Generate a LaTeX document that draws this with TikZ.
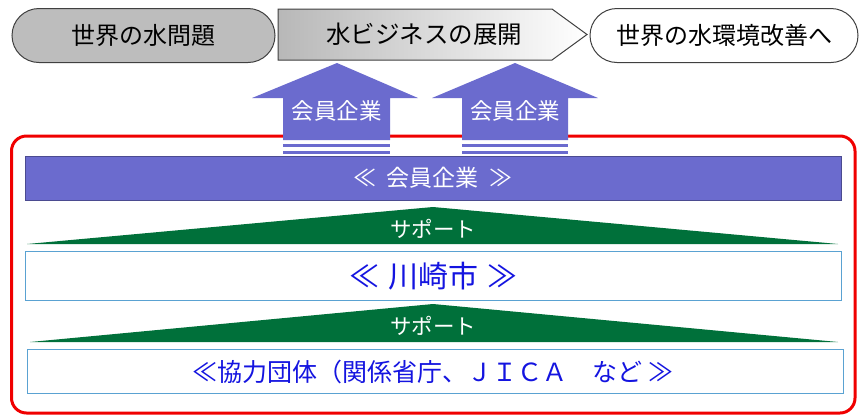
\documentclass[tikz,border=0pt]{standalone}
\usepackage{fontspec}
\setmainfont{Noto Sans CJK JP}
\usetikzlibrary{shapes.misc}
\definecolor{purp}{HTML}{6B6BCE}
\definecolor{grn}{HTML}{00703A}
\definecolor{lblue}{HTML}{5AA2D2}
\definecolor{txtblue}{HTML}{1414E0}
\definecolor{redline}{HTML}{F00000}
\definecolor{edge}{HTML}{404040}
\tikzset{
  pill/.style={rounded rectangle, draw=edge, line width=1pt, minimum height=54pt, inner sep=0pt, font=\fontsize{24}{26}\selectfont},
  toptext/.style={font=\fontsize{24.5}{26}\selectfont, text=black},
  uparrow/.style={fill=purp, draw=none},
  arrowtext/.style={text=white, font=\fontsize{22.5}{24}\selectfont},
  barbox/.style={fill=purp, draw=purp!70!black, line width=0.6pt},
  wedge/.style={fill=grn, draw=none},
  wedgetext/.style={text=white, font=\fontsize{21.5}{24}\selectfont},
  whitebox/.style={draw=lblue, line width=1pt, fill=white},
  bluetext/.style={text=txtblue},
  frame/.style={draw=redline, line width=3pt, rounded corners=15pt}
}
\begin{document}
\begin{tikzpicture}[x=1pt,y=-1pt]
\useasboundingbox (0,0) rectangle (862,416);

% top row
\node[pill, fill=black!26, minimum width=263pt] (p1) at (143.5,35.5) {世界の水問題};
\draw[draw=edge, line width=1pt, left color=black!28, right color=white]
  (278,9) -- (552,9) -- (587,34.5) -- (552,60) -- (278,60) -- cycle;
\node[toptext] (p2) at (424,34.5) {水ビジネスの展開};
\node[pill, fill=white, minimum width=268pt] (p3) at (724,35.5) {世界の水環境改善へ};

% red frame
\draw[frame] (11.5,136) rectangle (855,413);

% up arrows
\draw[uparrow] (252,98) -- (337,63) -- (418,98) -- (390,98) -- (390,140) -- (283,140) -- (283,98) -- cycle;
\fill[purp] (283,143.5) rectangle (390,147);
\fill[purp] (283,151) rectangle (390,154);
\node[arrowtext] (a1) at (336.5,111) {会員企業};

\draw[uparrow] (432,98) -- (515,63) -- (598,98) -- (568,98) -- (568,140) -- (462,140) -- (462,98) -- cycle;
\fill[purp] (462,143.5) rectangle (568,147);
\fill[purp] (462,151) rectangle (568,154);
\node[arrowtext] (a2) at (515,111) {会員企業};

% member bar
\draw[barbox] (25,156) rectangle (841,200);
\node[text=white, font=\fontsize{23}{24}\selectfont] (m) at (433,178) {≪\hspace{0.45em}会員企業\hspace{0.45em}≫};

% support wedge 1
\fill[wedge] (27,244) -- (433,207) -- (838,244) -- cycle;
\node[wedgetext] (s1) at (433,229) {サポート};

% Kawasaki box
\draw[whitebox] (25,251) rectangle (841,300);
\node[bluetext, font=\fontsize{30}{32}\selectfont] (k) at (433,276) {≪\hspace{0.3em}川崎市\hspace{0.3em}≫};

% support wedge 2
\fill[wedge] (30,342) -- (433,304) -- (838,342) -- cycle;
\node[wedgetext] (s2) at (433,326) {サポート};

% cooperation box
\draw[whitebox] (27,349) rectangle (843,393);
\node[bluetext, font=\fontsize{25}{27}\selectfont] (c) at (433,372) {≪協力団体（関係省庁、ＪＩＣＡ　など ≫};

\end{tikzpicture}
\end{document}
